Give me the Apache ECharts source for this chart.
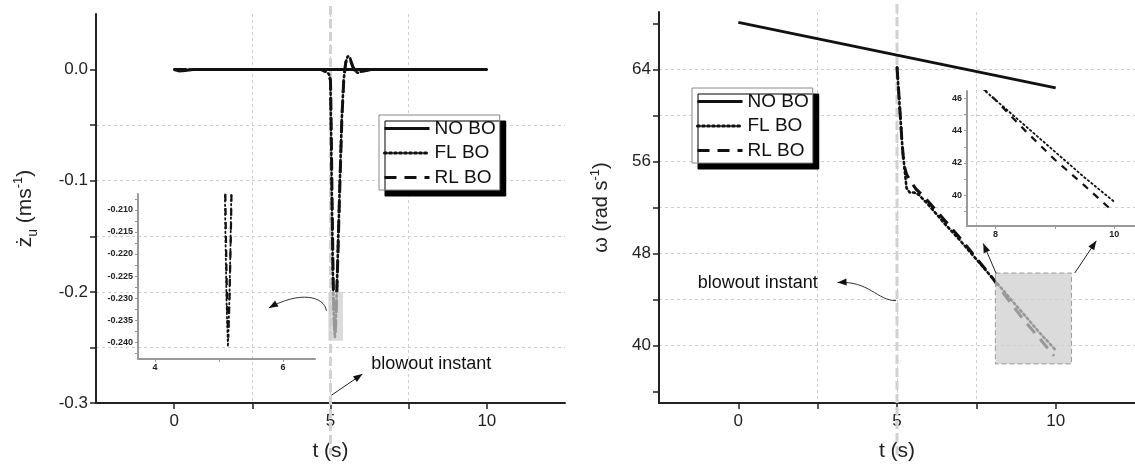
<!DOCTYPE html>
<html>
<head>
<meta charset="utf-8">
<script src="https://cdn.jsdelivr.net/npm/echarts@6/dist/echarts.min.js"></script>
<style>
html,body{margin:0;padding:0;background:#fff;}
#chart{width:1135px;height:467px;}
</style>
</head>
<body>
<div id="chart"></div>
<script>
// ---------------- DATA ----------------
const seriesNames = ['NO BO', 'FL BO', 'RL BO'];

// Left panel: vertical velocity (m/s) vs t (s)
const tLeftNoBo = [0, 0.15, 0.35, 0.6, 10];
const zLeftNoBo = [0, -0.0012, -0.0008, 0, 0];
const tLeftFl = [0, 4.7, 4.85, 4.95, 5.0, 5.02, 5.05, 5.08, 5.1, 5.12, 5.14, 5.16, 5.18, 5.2, 5.24, 5.3, 5.36, 5.42, 5.48, 5.55, 5.62, 5.7, 5.78, 5.87, 5.95, 6.1, 6.3, 10];
const zLeftFl = [0, 0, -0.002, -0.004, -0.01, -0.06, -0.13, -0.19, -0.215, -0.232, -0.241, -0.232, -0.218, -0.2, -0.16, -0.1, -0.045, -0.01, 0.006, 0.012, 0.011, 0.004, -0.001, -0.003, -0.002, -0.001, 0, 0];
const tLeftRl = [0, 4.7, 4.85, 4.95, 5.0, 5.025, 5.055, 5.085, 5.105, 5.125, 5.145, 5.165, 5.185, 5.205, 5.245, 5.305, 5.365, 5.425, 5.485, 5.555, 5.625, 5.705, 5.785, 5.875, 5.955, 6.1, 6.3, 10];
const zLeftRl = [0, 0, -0.002, -0.004, -0.01, -0.058, -0.128, -0.188, -0.213, -0.23, -0.239, -0.23, -0.216, -0.198, -0.158, -0.098, -0.043, -0.009, 0.006, 0.011, 0.01, 0.003, -0.001, -0.003, -0.002, -0.001, 0, 0];

// Right panel: omega (rad/s) vs t (s)
const tRightNoBo = [0, 10];
const wRightNoBo = [68.1, 62.4];
const tRightFl = [5.0, 5.05, 5.1, 5.15, 5.2, 5.23, 5.3, 5.4, 5.55, 5.69, 6.0, 6.5, 7.0, 7.5, 8.0, 8.5, 9.0, 9.5, 10];
const wRightFl = [64.2, 62.2, 60.1, 58.0, 56.3, 55.6, 53.7, 53.3, 53.3, 53.1, 52.2, 50.6, 49.1, 47.5, 45.9, 44.3, 42.7, 41.1, 39.6];
const tRightRl = [5.0, 5.05, 5.1, 5.15, 5.2, 5.23, 5.3, 5.4, 5.6, 5.75, 5.9, 6.5, 7.0, 7.5, 8.0, 8.5, 9.0, 9.5, 9.95];
const wRightRl = [64.2, 62.2, 60.1, 58.0, 56.3, 55.6, 54.9, 54.4, 53.6, 53.2, 52.8, 50.9, 49.3, 47.6, 45.9, 44.0, 42.2, 40.6, 39.1];

// Axis ranges and ticks
const tRange = [-2.5, 12.5];
const zRange = [-0.3, 0.05];
const wRange = [35, 69];
const tTicks = [0, 2.5, 5, 7.5, 10];
const tLabels = [0, 5, 10];
const zTicks = [-0.3, -0.25, -0.2, -0.15, -0.1, -0.05, 0];
const zLabels = [-0.3, -0.2, -0.1, 0];
const wTicks = [36, 40, 44, 48, 52, 56, 60, 64, 68];
const wLabels = [40, 48, 56, 64];

// Insets
const insetLeftTRange = [3.735, 6.5];
const insetLeftZRange = [-0.2438, -0.2064];
const insetLeftTTicks = [4, 5, 6];
const insetLeftTLabels = [4, 6];
const insetLeftZTicks = [-0.2425, -0.24, -0.2375, -0.235, -0.2325, -0.23, -0.2275, -0.225, -0.2225, -0.22, -0.2175, -0.215, -0.2125, -0.21, -0.2075];
const insetLeftZLabels = [-0.24, -0.235, -0.23, -0.225, -0.22, -0.215, -0.21];
const insetRightTRange = [7.52, 10.35];
const insetRightWRange = [38.1, 46.45];
const insetRightTTicks = [8, 9, 10];
const insetRightTLabels = [8, 10];
const insetRightWTicks = [39, 40, 41, 42, 43, 44, 45, 46];
const insetRightWLabels = [40, 42, 44, 46];

// Annotations (data units)
const blowoutT = 5;
const noteText = 'blowout instant';
const noteLeft = [6.3, -0.265];
const noteRight = [-1.28, 45.4];
const zoomBoxLeft = [[4.93, -0.2], [5.4, -0.244]];
const zoomBoxRight = [[8.1, 46.3], [10.5, 38.4]];
const arrowLeftStraight = [[5.03, -0.293], [6.02, -0.274]];
const arrowLeftCurve = [[4.87, -0.217], [4.80, -0.2036], [4.0, -0.1991], [3.03, -0.2145]];
const arrowRightCurve = [[4.97, 43.9], [4.375, 43.9], [4.125, 45.65], [3.125, 45.48]];
const arrowsRightStraight = [[[8.125, 46.26], [7.72, 48.87]], [[10.6, 46.3], [11.28, 49.1]]];

// ---------------- HELPERS ----------------
const FONT = 'Liberation Sans, Arial, sans-serif';
const zip = (a, b) => a.map((x, i) => [x, b[i]]);
const INK = '#111';

const styleNo = { color: INK, width: 3, type: 'solid' };
const styleFl = { color: INK, width: 2.6, type: [2, 3], cap: 'round' };
const styleRl = { color: INK, width: 3, type: [12, 8] };
const styleFlInset = { color: INK, width: 1.8, type: [1.5, 3], cap: 'round' };
const styleRlInset = { color: INK, width: 2.2, type: [7, 7] };

function lineSeries(name, data, xi, st) {
  return {
    type: 'line', name: name, data: data, xAxisIndex: xi, yAxisIndex: xi,
    symbol: 'none', showSymbol: false, lineStyle: st, itemStyle: { color: INK },
    animation: false, z: 3, clip: true
  };
}

function arrowHead(p, from, color) {
  const size = 9, w = 3.5;
  const dx = p[0] - from[0], dy = p[1] - from[1];
  const L = Math.hypot(dx, dy) || 1;
  const ux = dx / L, uy = dy / L;
  const bx = p[0] - ux * size, by = p[1] - uy * size;
  return { type: 'polygon', shape: { points: [[p[0], p[1]], [bx - uy * w, by + ux * w], [bx + uy * w, by - ux * w]] }, style: { fill: color } };
}
function straightArrow(api, a, b) {
  const p0 = api.coord(a), p1 = api.coord(b);
  return [
    { type: 'line', shape: { x1: p0[0], y1: p0[1], x2: p1[0], y2: p1[1] }, style: { stroke: '#222', lineWidth: 1 } },
    arrowHead(p1, p0, '#111')
  ];
}
function curvedArrow(api, pts) {
  const p = pts.map(q => api.coord(q));
  return [
    { type: 'bezierCurve', shape: { x1: p[0][0], y1: p[0][1], cpx1: p[1][0], cpy1: p[1][1], cpx2: p[2][0], cpy2: p[2][1], x2: p[3][0], y2: p[3][1] }, style: { stroke: '#333', lineWidth: 1, fill: null } },
    arrowHead(p[3], p[2], '#111')
  ];
}
function blowoutSeries(xi, yRange) {
  return {
    type: 'custom', xAxisIndex: xi, yAxisIndex: xi, data: [[blowoutT]], clip: false, z: 1, silent: true, animation: false,
    renderItem: function (params, api) {
      const top = api.coord([blowoutT, yRange[1]]);
      const bot = api.coord([blowoutT, yRange[0]]);
      return { type: 'line', shape: { x1: top[0], y1: top[1] - 8, x2: bot[0], y2: bot[1] + 52 }, style: { stroke: '#d2d2d2', lineWidth: 3, lineDash: [9, 4] } };
    }
  };
}
function boxElement(api, box, dashed) {
  const a = api.coord(box[0]), b = api.coord(box[1]);
  return { type: 'rect', shape: { x: a[0], y: a[1], width: b[0] - a[0], height: b[1] - a[1] },
    style: { fill: 'rgba(205,205,205,0.72)', stroke: dashed ? '#9a9a9a' : null, lineWidth: 1, lineDash: dashed ? [5, 3] : null } };
}
function noteElement(api, pos) {
  const p = api.coord(pos);
  return { type: 'text', x: p[0], y: p[1], style: { text: noteText, fontSize: 18, fontFamily: FONT, fill: INK, align: 'left', verticalAlign: 'middle' } };
}

// ---------------- AXES ----------------
function mainX(gi) {
  return {
    gridIndex: gi, type: 'value', min: tRange[0], max: tRange[1],
    name: 't (s)', nameLocation: 'middle', nameGap: 38,
    nameTextStyle: { fontSize: 21, color: '#222', fontFamily: FONT },
    axisLine: { onZero: false, lineStyle: { color: '#222', width: 2 } },
    axisTick: { show: true, customValues: tTicks, length: 6, lineStyle: { color: '#222', width: 1.5 } },
    axisLabel: { customValues: tLabels, fontSize: 17, color: '#222', fontFamily: FONT, margin: 10, formatter: v => String(Math.round(v)) },
    splitLine: { show: true, showMinLine: false, showMaxLine: false, lineStyle: { color: '#cfcfcf', width: 1, type: [3, 3] } }
  };
}
function insetAxisCommon() {
  return {
    axisLine: { onZero: false, lineStyle: { color: '#999', width: 2 } },
    axisTick: { show: true, length: 3, lineStyle: { color: '#999', width: 1 } },
    splitLine: { show: false }
  };
}

const xAxes = [
  mainX(0),
  Object.assign(insetAxisCommon(), {
    gridIndex: 1, type: 'value', min: insetLeftTRange[0], max: insetLeftTRange[1],
    axisTick: { show: true, customValues: insetLeftTTicks, length: 3, lineStyle: { color: '#999', width: 1 } },
    axisLabel: { customValues: insetLeftTLabels, fontSize: 9, fontWeight: 'bold', color: '#222', fontFamily: FONT, margin: 4, formatter: v => String(Math.round(v)) }
  }),
  mainX(2),
  Object.assign(insetAxisCommon(), {
    gridIndex: 3, type: 'value', min: insetRightTRange[0], max: insetRightTRange[1],
    axisTick: { show: true, customValues: insetRightTTicks, length: 3, lineStyle: { color: '#999', width: 1 } },
    axisLabel: { customValues: insetRightTLabels, fontSize: 9, fontWeight: 'bold', color: '#222', fontFamily: FONT, margin: 4, formatter: v => String(Math.round(v)) }
  })
];

const yAxes = [
  {
    gridIndex: 0, type: 'value', min: zRange[0], max: zRange[1],
    name: '{m|ż}{sub|u}{m| (ms}{sup|-1}{m|)}', nameLocation: 'middle', nameGap: 56,
    nameTextStyle: {
      fontSize: 21, color: '#222', fontFamily: FONT,
      rich: {
        m: { fontSize: 21, fontFamily: FONT, color: '#222', lineHeight: 30, verticalAlign: 'middle' },
        sub: { fontSize: 14, fontFamily: FONT, color: '#222', lineHeight: 30, verticalAlign: 'bottom', padding: [0, 0, 0, 0] },
        sup: { fontSize: 13, fontFamily: FONT, color: '#222', lineHeight: 30, verticalAlign: 'top', padding: [2, 0, 0, 0] }
      }
    },
    axisLine: { show: true, onZero: false, lineStyle: { color: '#222', width: 2 } },
    axisTick: { show: true, customValues: zTicks, length: 6, lineStyle: { color: '#222', width: 1.5 } },
    axisLabel: { customValues: zLabels, fontSize: 17, color: '#222', fontFamily: FONT, margin: 8, formatter: v => (Math.abs(v) < 1e-9 ? 0 : v).toFixed(1) },
    splitLine: { show: true, showMinLine: false, showMaxLine: false, lineStyle: { color: '#cfcfcf', width: 1, type: [3, 3] } }
  },
  Object.assign(insetAxisCommon(), {
    gridIndex: 1, type: 'value', min: insetLeftZRange[0], max: insetLeftZRange[1],
    axisTick: { show: true, customValues: insetLeftZTicks, length: 3, lineStyle: { color: '#999', width: 1 } },
    axisLabel: { customValues: insetLeftZLabels, fontSize: 9, fontWeight: 'bold', color: '#222', fontFamily: FONT, margin: 5, formatter: v => v.toFixed(3) }
  }),
  {
    gridIndex: 2, type: 'value', min: wRange[0], max: wRange[1],
    name: '{m|ω (rad s}{sup|-1}{m|)}', nameLocation: 'middle', nameGap: 44,
    nameTextStyle: {
      fontSize: 20, color: '#222', fontFamily: FONT,
      rich: {
        m: { fontSize: 20, fontFamily: FONT, color: '#222', lineHeight: 28, verticalAlign: 'middle' },
        sup: { fontSize: 13, fontFamily: FONT, color: '#222', lineHeight: 28, verticalAlign: 'top', padding: [2, 0, 0, 0] }
      }
    },
    axisLine: { show: true, onZero: false, lineStyle: { color: '#222', width: 2 } },
    axisTick: { show: true, customValues: wTicks, length: 6, lineStyle: { color: '#222', width: 1.5 } },
    axisLabel: { customValues: wLabels, fontSize: 17, color: '#222', fontFamily: FONT, margin: 8, formatter: v => String(Math.round(v)) },
    splitLine: { show: true, showMinLine: false, showMaxLine: false, lineStyle: { color: '#cfcfcf', width: 1, type: [3, 3] } }
  },
  Object.assign(insetAxisCommon(), {
    gridIndex: 3, type: 'value', min: insetRightWRange[0], max: insetRightWRange[1],
    axisTick: { show: true, customValues: insetRightWTicks, length: 3, lineStyle: { color: '#999', width: 1 } },
    axisLabel: { customValues: insetRightWLabels, fontSize: 9, fontWeight: 'bold', color: '#222', fontFamily: FONT, margin: 5, formatter: v => String(Math.round(v)) }
  })
];

// ---------------- SERIES ----------------
const series = [
  lineSeries('NO BO', zip(tLeftNoBo, zLeftNoBo), 0, styleNo),
  lineSeries('FL BO', zip(tLeftFl, zLeftFl), 0, styleFl),
  lineSeries('RL BO', zip(tLeftRl, zLeftRl), 0, styleRl),
  lineSeries('FL BO', zip(tLeftFl, zLeftFl), 1, styleFlInset),
  lineSeries('RL BO', zip(tLeftRl, zLeftRl), 1, styleRlInset),
  lineSeries('NO BO', zip(tRightNoBo, wRightNoBo), 2, styleNo),
  lineSeries('FL BO', zip(tRightFl, wRightFl), 2, styleFl),
  lineSeries('RL BO', zip(tRightRl, wRightRl), 2, styleRl),
  lineSeries('FL BO', zip(tRightFl, wRightFl), 3, styleFlInset),
  lineSeries('RL BO', zip(tRightRl, wRightRl), 3, styleRlInset),
  blowoutSeries(0, zRange),
  blowoutSeries(2, wRange),
  {
    type: 'custom', xAxisIndex: 0, yAxisIndex: 0, data: [[0]], clip: false, z: 10, silent: true, animation: false,
    renderItem: function (params, api) {
      return { type: 'group', children: [boxElement(api, zoomBoxLeft, false)]
        .concat(straightArrow(api, arrowLeftStraight[0], arrowLeftStraight[1]))
        .concat(curvedArrow(api, arrowLeftCurve))
        .concat([noteElement(api, noteLeft)]) };
    }
  },
  {
    type: 'custom', xAxisIndex: 2, yAxisIndex: 2, data: [[0]], clip: false, z: 10, silent: true, animation: false,
    renderItem: function (params, api) {
      let ch = [boxElement(api, zoomBoxRight, true)];
      arrowsRightStraight.forEach(a => { ch = ch.concat(straightArrow(api, a[0], a[1])); });
      ch = ch.concat(curvedArrow(api, arrowRightCurve));
      ch.push(noteElement(api, noteRight));
      return { type: 'group', children: ch };
    }
  }
];

const legendCommon = {
  data: seriesNames, orient: 'vertical', selectedMode: false,
  backgroundColor: '#fff', borderColor: '#888', borderWidth: 1,
  shadowColor: '#000', shadowOffsetX: 6, shadowOffsetY: 6, shadowBlur: 0.01,
  itemWidth: 45, itemHeight: 20, itemGap: 5.5, padding: [4, 4, 3, 4],
  itemStyle: { color: 'rgba(0,0,0,0)', borderColor: 'rgba(0,0,0,0)', borderWidth: 0, opacity: 0 },
  lineStyle: { width: 3 },
  textStyle: { fontSize: 19, color: '#111', fontFamily: FONT }, z: 20
};

const option = {
  backgroundColor: '#fff',
  animation: false,
  grid: [
    { left: 96, top: 14, width: 469, height: 389, containLabel: false },
    { left: 138, top: 194, width: 177, height: 165, containLabel: false },
    { left: 659, top: 12, width: 480, height: 391, containLabel: false },
    { left: 967, top: 91, width: 171, height: 135, containLabel: false }
  ],
  legend: [
    Object.assign({}, legendCommon, { left: 379, top: 115 }),
    Object.assign({}, legendCommon, { left: 692, top: 88 })
  ],
  xAxis: xAxes,
  yAxis: yAxes,
  series: series
};

const chart = echarts.init(document.getElementById('chart'), null, { renderer: 'canvas' });
chart.setOption(option);
</script>
</body>
</html>
